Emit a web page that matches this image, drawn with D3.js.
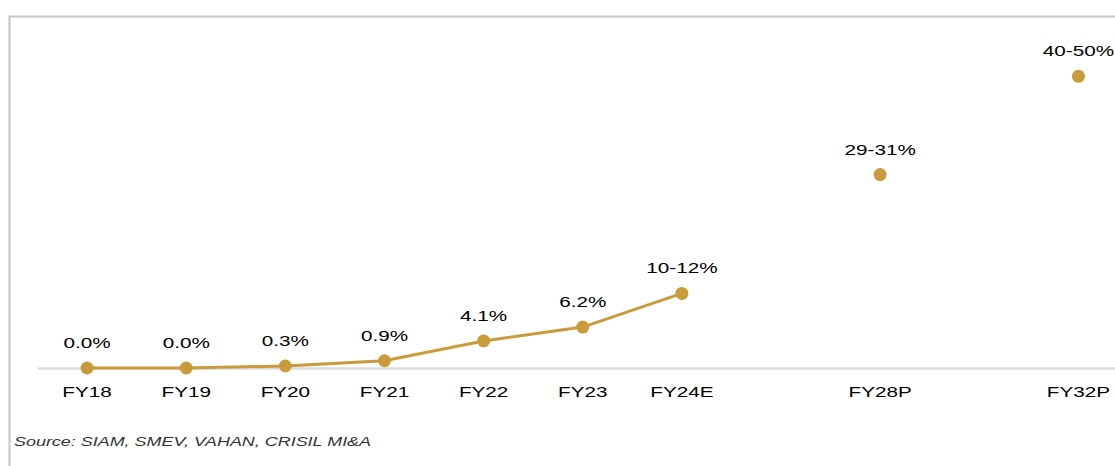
<!DOCTYPE html>
<html lang="en">
<head>
<meta charset="UTF-8">
<title>EV penetration</title>
<script src="https://cdn.jsdelivr.net/npm/d3@7"></script>
<style>
  body { margin: 0; background: #fff; }
  svg { display: block; font-family: "Liberation Sans", Arial, sans-serif; }
</style>
</head>
<body>
<div id="chart"></div>
<script>
// slots on the x axis; gap1/gap2 are the empty slots between FY24E, FY28P and FY32P
const slots = ["FY18", "FY19", "FY20", "FY21", "FY22", "FY23", "FY24E", "gap1", "FY28P", "gap2", "FY32P"];
const categories = ["FY18", "FY19", "FY20", "FY21", "FY22", "FY23", "FY24E", "FY28P", "FY32P"];
const values = [0.0, 0.0, 0.3, 1.1, 4.1, 6.2, 11.3, 29.3, 44.2];
const labels = ["0.0%", "0.0%", "0.3%", "0.9%", "4.1%", "6.2%", "10-12%", "29-31%", "40-50%"];
const lineCount = 7; // first seven points are joined by the line

const W = 1115, H = 466;
const gold = "#c99b3b";
const stretch = 1.38;

const svg = d3.select("#chart").append("svg")
    .attr("width", W)
    .attr("height", H);

// frame
svg.append("rect")
    .attr("x", 9.5).attr("y", 16.5)
    .attr("width", 1130).attr("height", 480)
    .attr("fill", "none")
    .attr("stroke", "#c4c4c4")
    .attr("stroke-width", 2);

const x = d3.scaleBand()
    .domain(slots)
    .range([37.5, 1128])
    .paddingInner(0).paddingOuter(0);

const y = d3.scaleLinear()
    .domain([0, 50])
    .range([368, 38]);

const data = categories.map((c, i) => ({ cat: c, v: values[i], label: labels[i] }));
const cx = d => x(d.cat) + x.bandwidth() / 2;

// x axis
const axis = svg.append("g")
    .attr("transform", `translate(0,${y(0)})`)
    .call(d3.axisBottom(x).tickSize(0).tickSizeOuter(0).tickFormat(() => ""));
axis.select(".domain").attr("stroke", "#dcdcdc").attr("stroke-width", 2.5);

svg.append("g").selectAll("text")
    .data(data)
    .join("text")
    .attr("transform", d => `translate(${cx(d)},397) scale(${stretch},1)`)
    .attr("text-anchor", "middle")
    .attr("font-size", 15)
    .attr("fill", "#000")
    .text(d => d.cat);

// line
const line = d3.line().x(cx).y(d => y(d.v));
svg.append("path")
    .datum(data.slice(0, lineCount))
    .attr("d", line)
    .attr("fill", "none")
    .attr("stroke", gold)
    .attr("stroke-width", 3);

svg.append("g").selectAll("circle")
    .data(data)
    .join("circle")
    .attr("cx", cx)
    .attr("cy", d => y(d.v))
    .attr("r", 6.5)
    .attr("fill", gold);

// value labels
svg.append("g").selectAll("text")
    .data(data)
    .join("text")
    .attr("transform", d => `translate(${cx(d)},${y(d.v) - 20}) scale(${stretch},1)`)
    .attr("text-anchor", "middle")
    .attr("font-size", 15)
    .attr("fill", "#000")
    .text(d => d.label);

// source note
svg.append("text")
    .attr("transform", `translate(14,446) scale(${stretch},1)`)
    .attr("font-size", 13)
    .attr("font-style", "italic")
    .attr("fill", "#333")
    .text("Source: SIAM, SMEV, VAHAN, CRISIL MI&A");
</script>
</body>
</html>
